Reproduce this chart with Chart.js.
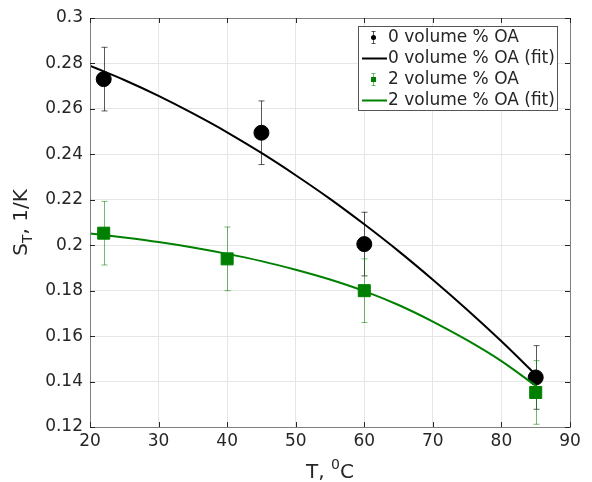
<!DOCTYPE html>
<html>
<head>
<meta charset="utf-8">
<script src="https://cdn.jsdelivr.net/npm/chart.js@4.4.0/dist/chart.umd.min.js"></script>
<style>
  html, body { margin: 0; padding: 0; background: #fff; }
</style>
</head>
<body>
<canvas id="chart" width="592" height="482"></canvas>
<script>
// measured points (0 % and 2 % OA)
const tempsOA0 = [22, 45, 60, 85];
const stOA0 = [0.2731, 0.2495, 0.2005, 0.1418];
const errOA0 = [0.014, 0.014, 0.014, 0.014];

const tempsOA2 = [22, 40, 60, 85];
const stOA2 = [0.2053, 0.1940, 0.1800, 0.1352];
const errOA2 = [0.014, 0.014, 0.014, 0.014];

// fit curves
const fitT = [20, 25, 30, 35, 40, 45, 50, 55, 60, 65, 70, 75, 80, 85];
const fitOA0 = [0.2790, 0.2727, 0.2657, 0.2580, 0.2497, 0.2406, 0.2308, 0.2204, 0.2092, 0.1974, 0.1848, 0.1716, 0.1577, 0.1430];
const fitOA2 = [0.2052, 0.2034, 0.2014, 0.1990, 0.1962, 0.1930, 0.1892, 0.1849, 0.1798, 0.1737, 0.1664, 0.1582, 0.1490, 0.1382];

const xTicks = [20, 30, 40, 50, 60, 70, 80, 90];
const yTicks = [0.12, 0.14, 0.16, 0.18, 0.2, 0.22, 0.24, 0.26, 0.28, 0.3];

const legendLabels = ['0 volume % OA', '0 volume % OA (fit)', '2 volume % OA', '2 volume % OA (fit)'];

const FONT = "'DejaVu Sans', sans-serif";
const TXT = '#262626';
const BLACK = '#000000';
const GREEN = '#008000';

const pts = (xs, ys) => xs.map((x, i) => ({ x: x, y: ys[i] }));

// error bars, drawn under the markers
const errorBars = {
    id: 'errorBars',
    beforeDatasetsDraw(chart) {
        const { ctx, scales: { x, y } } = chart;
        const sets = [
            [tempsOA0, stOA0, errOA0, 'rgba(0,0,0,0.65)'],
            [tempsOA2, stOA2, errOA2, 'rgba(0,128,0,0.55)']
        ];
        ctx.save();
        ctx.lineWidth = 1;
        sets.forEach(([xs, ys, es, col]) => {
            ctx.strokeStyle = col;
            xs.forEach((t, i) => {
                const px = Math.round(x.getPixelForValue(t)) + 0.5;
                const top = y.getPixelForValue(ys[i] + es[i]);
                const bot = y.getPixelForValue(ys[i] - es[i]);
                ctx.beginPath();
                ctx.moveTo(px, top); ctx.lineTo(px, bot);
                ctx.moveTo(px - 3, top); ctx.lineTo(px + 3, top);
                ctx.moveTo(px - 3, bot); ctx.lineTo(px + 3, bot);
                ctx.stroke();
            });
        });
        ctx.restore();
    }
};

// box, inward ticks, axis titles and legend in MATLAB style
const decorations = {
    id: 'decorations',
    afterDraw(chart) {
        const { ctx, chartArea: a, scales: { x, y } } = chart;
        ctx.save();
        ctx.strokeStyle = '#808080';
        ctx.lineWidth = 1;
        ctx.strokeRect(Math.round(a.left) + 0.5, Math.round(a.top) + 0.5,
            Math.round(a.right - a.left), Math.round(a.bottom - a.top));

        ctx.strokeStyle = TXT;
        ctx.beginPath();
        xTicks.forEach(t => {
            const px = Math.round(x.getPixelForValue(t)) + 0.5;
            ctx.moveTo(px, a.bottom); ctx.lineTo(px, a.bottom - 5);
            ctx.moveTo(px, a.top); ctx.lineTo(px, a.top + 5);
        });
        yTicks.forEach(t => {
            const py = Math.round(y.getPixelForValue(t)) + 0.5;
            ctx.moveTo(a.left, py); ctx.lineTo(a.left + 5, py);
            ctx.moveTo(a.right, py); ctx.lineTo(a.right - 5, py);
        });
        ctx.stroke();

        // x title: T, ⁰C
        ctx.fillStyle = TXT;
        ctx.textBaseline = 'alphabetic';
        const big = '20px ' + FONT, small = '14px ' + FONT;
        ctx.font = big;
        const w1 = ctx.measureText('T, ').width, w3 = ctx.measureText('C').width;
        ctx.font = small;
        const w2 = ctx.measureText('0').width;
        let sx = (a.left + a.right) / 2 - (w1 + w2 + w3) / 2;
        const by = 478;
        ctx.font = big; ctx.fillText('T, ', sx, by);
        ctx.font = small; ctx.fillText('0', sx + w1, by - 9);
        ctx.font = big; ctx.fillText('C', sx + w1 + w2, by);

        // y title: S_T, 1/K
        ctx.translate(27, (a.top + a.bottom) / 2);
        ctx.rotate(-Math.PI / 2);
        ctx.font = big;
        const s1 = ctx.measureText('S').width, s3 = ctx.measureText(', 1/K').width;
        ctx.font = small;
        const s2 = ctx.measureText('T').width;
        let tx = -(s1 + s2 + s3) / 2;
        ctx.font = big; ctx.fillText('S', tx, 0);
        ctx.font = small; ctx.fillText('T', tx + s1, 5);
        ctx.font = big; ctx.fillText(', 1/K', tx + s1 + s2, 0);
        ctx.setTransform(1, 0, 0, 1, 0, 0);

        // legend
        const lx = 358, ly = 26, lw = 199, lh = 84;
        ctx.fillStyle = '#ffffff';
        ctx.fillRect(lx, ly, lw, lh);
        ctx.strokeStyle = '#555555';
        ctx.strokeRect(lx + 0.5, ly + 0.5, lw, lh);
        const rows = [37, 58, 79, 100];
        const cols = [BLACK, BLACK, GREEN, GREEN];
        ctx.font = '17px ' + FONT;
        ctx.textBaseline = 'middle';
        legendLabels.forEach((lab, i) => {
            const ry = rows[i] + 0.5;
            if (i % 2 === 0) {
                ctx.strokeStyle = i === 0 ? 'rgba(0,0,0,0.65)' : 'rgba(0,128,0,0.55)';
                ctx.beginPath();
                ctx.moveTo(373.5, ry - 6); ctx.lineTo(373.5, ry + 6);
                ctx.moveTo(371.5, ry - 6); ctx.lineTo(375.5, ry - 6);
                ctx.moveTo(371.5, ry + 6); ctx.lineTo(375.5, ry + 6);
                ctx.stroke();
                ctx.fillStyle = cols[i];
                if (i === 0) {
                    ctx.beginPath(); ctx.arc(373.5, ry, 2.5, 0, Math.PI * 2); ctx.fill();
                } else {
                    ctx.fillRect(371, ry - 2.5, 5, 5);
                }
            } else {
                ctx.strokeStyle = cols[i];
                ctx.lineWidth = 2;
                ctx.beginPath(); ctx.moveTo(362, ry); ctx.lineTo(387, ry); ctx.stroke();
                ctx.lineWidth = 1;
            }
            ctx.fillStyle = TXT;
            ctx.fillText(lab, 388, ry);
        });
        ctx.restore();
    }
};

new Chart(document.getElementById('chart').getContext('2d'), {
    type: 'scatter',
    data: {
        datasets: [
            {
                label: legendLabels[0],
                data: pts(tempsOA0, stOA0),
                backgroundColor: BLACK,
                borderColor: BLACK,
                pointStyle: 'circle',
                pointRadius: 7.5,
                order: 3
            },
            {
                label: legendLabels[1],
                type: 'line',
                data: pts(fitT, fitOA0),
                borderColor: BLACK,
                borderWidth: 2,
                pointRadius: 0,
                cubicInterpolationMode: 'monotone',
                fill: false,
                order: 2
            },
            {
                label: legendLabels[2],
                data: pts(tempsOA2, stOA2),
                backgroundColor: GREEN,
                borderColor: GREEN,
                pointStyle: 'rect',
                pointRadius: 8.5,
                order: 0
            },
            {
                label: legendLabels[3],
                type: 'line',
                data: pts(fitT, fitOA2),
                borderColor: GREEN,
                borderWidth: 2,
                pointRadius: 0,
                cubicInterpolationMode: 'monotone',
                fill: false,
                order: 1
            }
        ]
    },
    options: {
        responsive: false,
        animation: false,
        layout: { padding: { top: 18, right: 22, left: 0, bottom: 0 } },
        plugins: {
            legend: { display: false },
            tooltip: { enabled: false }
        },
        scales: {
            x: {
                type: 'linear',
                min: 20, max: 90,
                afterBuildTicks: s => { s.ticks = xTicks.map(v => ({ value: v })); },
                afterFit: s => { s.height = 55; },
                grid: { color: '#e6e6e6', drawTicks: false },
                border: { display: false },
                ticks: { color: TXT, font: { family: FONT, size: 17 }, padding: 4, maxRotation: 0 }
            },
            y: {
                type: 'linear',
                min: 0.12, max: 0.3,
                afterBuildTicks: s => { s.ticks = yTicks.map(v => ({ value: v })); },
                afterFit: s => { s.width = 90; },
                grid: { color: '#e6e6e6', drawTicks: false },
                border: { display: false },
                ticks: {
                    color: TXT, font: { family: FONT, size: 17 }, padding: 7,
                    callback: v => String(Number(v.toFixed(2)))
                }
            }
        }
    },
    plugins: [errorBars, decorations]
});
</script>
</body>
</html>
